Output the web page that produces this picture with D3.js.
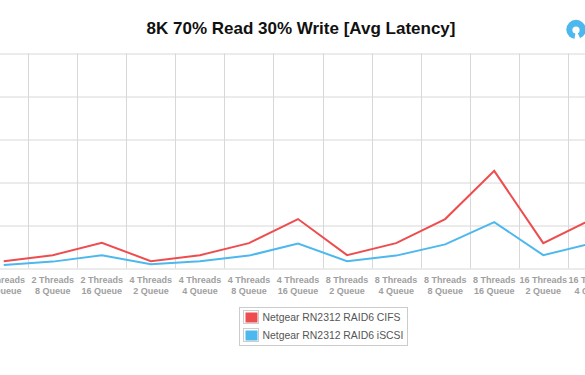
<!DOCTYPE html>
<html>
<head>
<meta charset="utf-8">
<script src="https://cdnjs.cloudflare.com/ajax/libs/d3/7.8.5/d3.min.js"></script>
<style>
  html, body { margin: 0; padding: 0; background: #fff; overflow: hidden; }
  svg { display: block; font-family: "Liberation Sans", sans-serif; }
</style>
</head>
<body>
<div class="canvas"></div>
<script>
const threads = ['2', '2', '2', '4', '4', '4', '4', '8', '8', '8', '8', '16', '16']
const queues = ['4', '8', '16', '2', '4', '8', '16', '2', '4', '8', '16', '2', '4']
const categories = threads.map((t, i) => `${t}T${queues[i]}Q`)
const cifs = [1.7, 3.1, 6, 1.7, 3.1, 5.9, 11.5, 3.1, 5.9, 11.5, 22.7, 5.9, 11.5]
const iscsi = [0.8, 1.6, 3.1, 1, 1.7, 3, 5.8, 1.7, 3, 5.6, 10.8, 3.1, 5.9]
const yTicks = [0, 10, 20, 30, 40, 50]
const seriesNames = ['Netgear RN2312 RAID6 CIFS', 'Netgear RN2312 RAID6 iSCSI']
const seriesColors = ['#ee4d4f', '#4db8ee']

const svg = d3
  .select('.canvas')
  .append('svg')
  .attr('width', 585)
  .attr('height', 375)

// Plot runs past both edges of the picture, same as the reference crop
const left = -20.8
const step = 49.05
const x = d3
  .scaleBand()
  .domain(categories)
  .range([left, left + step * categories.length])
const y = d3.scaleLinear().domain([0, 50]).range([268.5, 53.5])

svg
  .append('text')
  .attr('x', 301)
  .attr('y', 34)
  .attr('text-anchor', 'middle')
  .attr('font-size', 17)
  .attr('font-weight', 'bold')
  .attr('fill', '#111')
  .text('8K 70% Read 30% Write [Avg Latency]')

// Grid
const yAxis = d3.axisLeft(y).tickValues(yTicks).tickSize(-700).tickFormat('')
svg
  .append('g')
  .attr('transform', `translate(${left},0)`)
  .call(yAxis)
  .call(g => g.select('.domain').remove())
  .selectAll('line')
  .attr('stroke', '#d8d8d8')

svg
  .append('g')
  .selectAll('line')
  .data(categories.slice(1))
  .enter()
  .append('line')
  .attr('x1', d => Math.round(x(d)) + 0.5)
  .attr('x2', d => Math.round(x(d)) + 0.5)
  .attr('y1', y(50))
  .attr('y2', y(0))
  .attr('stroke', '#d8d8d8')

// Tick labels
const xAxis = d3.axisBottom(x).tickSize(0).tickFormat('')
const xAxisGroup = svg
  .append('g')
  .attr('transform', `translate(0,${y(0)})`)
  .call(xAxis)
xAxisGroup.select('.domain').remove()
xAxisGroup
  .selectAll('.tick text')
  .each(function(d, i) {
    const label = d3.select(this)
    label
      .attr('y', 0)
      .attr('dy', 0)
      .attr('fill', '#a0a0a0')
      .attr('font-size', 9)
      .attr('font-weight', 'bold')
      .attr('font-family', '"Liberation Sans", sans-serif')
    label.append('tspan').attr('x', 0).attr('y', 14.5).text(`${threads[i]} Threads`)
    label.append('tspan').attr('x', 0).attr('y', 25.5).text(`${queues[i]} Queue`)
  })

// Lines
const line = d3
  .line()
  .x((d, i) => x(categories[i]) + x.bandwidth() / 2)
  .y(d => y(d))

;[cifs, iscsi].forEach((values, i) => {
  svg
    .append('path')
    .datum(values)
    .attr('fill', 'none')
    .attr('stroke', seriesColors[i])
    .attr('stroke-width', 2)
    .attr('d', line)
})

// Legend
const legend = svg.append('g').attr('transform', 'translate(239.5,307.5)')
legend
  .append('rect')
  .attr('width', 168)
  .attr('height', 38)
  .attr('fill', '#fff')
  .attr('stroke', '#ccc')

const legendRows = legend
  .selectAll('.row')
  .data(seriesNames)
  .enter()
  .append('g')
  .attr('class', 'row')
  .attr('transform', (d, i) => `translate(4,${3 + i * 18})`)
legendRows
  .append('rect')
  .attr('width', 15)
  .attr('height', 13)
  .attr('fill', '#fff')
  .attr('stroke', '#ccc')
legendRows
  .append('rect')
  .attr('x', 2)
  .attr('y', 2)
  .attr('width', 12)
  .attr('height', 10)
  .attr('fill', (d, i) => seriesColors[i])
legendRows
  .append('text')
  .attr('x', 19)
  .attr('y', 10.5)
  .attr('font-size', 10.4)
  .attr('fill', '#555')
  .text(d => d)

// Logo in the corner
const logo = svg.append('g').attr('transform', 'translate(576,29.5)')
logo.append('circle').attr('r', 9.7).attr('fill', '#4db8ee')
logo.append('circle').attr('r', 3.6).attr('cy', 0.5).attr('fill', '#fff')
logo
  .append('path')
  .attr('d', d3.arc()({ innerRadius: 0, outerRadius: 11, startAngle: 2.7, endAngle: 3.3 }))
  .attr('fill', '#fff')
</script>
</body>
</html>
